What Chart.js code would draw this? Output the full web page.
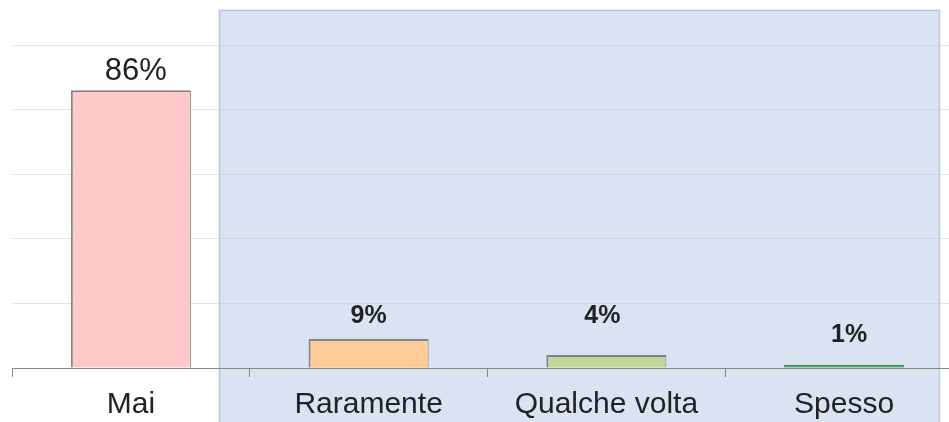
<!DOCTYPE html>
<html>
<head>
<meta charset="utf-8">
<script src="https://cdn.jsdelivr.net/npm/chart.js@4"></script>
<style>
  body { margin: 0; background: #fff; overflow: hidden; }
  #wrap { width: 975px; height: 433px; position: relative; }
</style>
</head>
<body>
<div id="wrap"><canvas id="grafico_frequenza"></canvas></div>
<script>
const categorie = ["Mai", "Raramente", "Qualche volta", "Spesso"]
const percentuali = [86, 9, 4, 1]
const etichette = ["86%", "9%", "4%", "1%"]
const coloriBarre = ["#FFC9C9", "#FFCC99", "#C4D79B", "#339955"]
const coloriBordi = ["#8C8080", "#8C8080", "#808080", "#339955"]

// riquadro azzurro dietro le ultime tre categorie
const riquadro = {
    id: 'riquadro',
    beforeDraw(chart) {
        const ctx = chart.ctx
        ctx.save()
        ctx.fillStyle = "#DAE3F1"
        ctx.fillRect(219, 10, 720, 430)
        ctx.strokeStyle = "#B4C7E7"
        ctx.lineWidth = 1.5
        ctx.strokeRect(219.5, 10.5, 720, 430)
        ctx.restore()
    }
}

// etichette percentuali sopra le barre
const etichetteBarre = {
    id: 'etichetteBarre',
    afterDatasetsDraw(chart, args, opts) {
        const ctx = chart.ctx
        const meta = chart.getDatasetMeta(0)
        ctx.save()
        ctx.textAlign = "center"
        ctx.textBaseline = "alphabetic"
        ctx.fillStyle = "#222"
        meta.data.forEach((bar, i) => {
            ctx.font = opts.fonts[i]
            ctx.fillText(etichette[i], bar.x + opts.dx[i], bar.y - opts.gap[i])
        })
        ctx.restore()
    }
}

const criarGrafico = () => {
    const ctx = document.querySelector("#grafico_frequenza")
    new Chart(ctx, {
        type: 'bar',
        data: {
            labels: categorie,
            datasets: [{
                data: percentuali,
                backgroundColor: coloriBarre,
                borderColor: coloriBordi,
                borderWidth: { left: 2, top: 2, right: 1, bottom: 0 },
                barPercentage: 0.505,
                categoryPercentage: 1
            }]
        },
        plugins: [riquadro, etichetteBarre],
        options: {
            responsive: true,
            maintainAspectRatio: false,
            animation: false,
            layout: { padding: { left: 12, right: 12, top: 45, bottom: 0 } },
            plugins: {
                legend: { display: false },
                tooltip: { enabled: false },
                etichetteBarre: {
                    fonts: ["31px 'Liberation Sans', Arial", "bold 25px 'Liberation Sans', Arial",
                            "bold 25px 'Liberation Sans', Arial", "bold 25px 'Liberation Sans', Arial"],
                    gap: [10, 16, 32, 23],
                    dx: [5, 0, -4, 5]
                }
            },
            scales: {
                y: {
                    min: 0,
                    max: 100,
                    ticks: { display: false, stepSize: 20 },
                    border: { display: false },
                    grid: { color: "rgba(200,200,200,0.5)", drawTicks: false }
                },
                x: {
                    border: { color: "#888", width: 1 },
                    grid: { drawOnChartArea: false, tickLength: 9, color: "#888" },
                    ticks: {
                        color: "#222",
                        padding: 10,
                        font: { family: "'Liberation Sans', Arial", size: 30 }
                    }
                }
            }
        }
    })
}

criarGrafico()
</script>
</body>
</html>
